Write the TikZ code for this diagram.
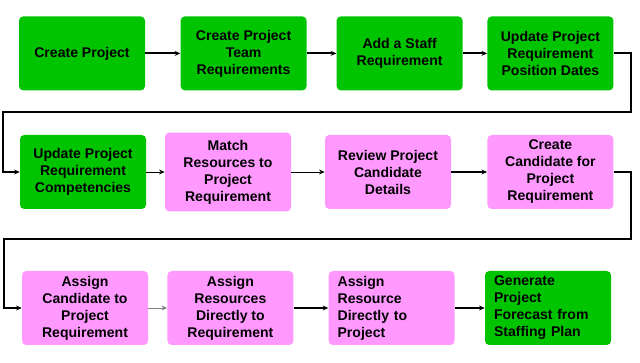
\documentclass[tikz,border=0pt]{standalone}
\usepackage{fontspec}
\setmainfont{Liberation Sans}
\usetikzlibrary{arrows.meta,positioning}
\definecolor{stepgreen}{RGB}{0,196,0}
\definecolor{steppink}{RGB}{255,153,255}

\begin{document}
\begin{tikzpicture}[
    box/.style={rounded corners=3pt, minimum width=3.15cm, minimum height=1.85cm,
        inner sep=1pt, align=center,
        font=\fontsize{10}{12.1}\selectfont\bfseries},
    greenbox/.style={box, fill=stepgreen},
    pinkbox/.style={box, fill=steppink},
    thickarrow/.style={line width=1.4pt, -{Stealth[length=4pt,width=3.5pt]}},
    thinarrow/.style={line width=0.7pt, -{Stealth[length=4pt,width=3.5pt]}}
    ]
    \useasboundingbox (0,0) rectangle (16,9.075);

    % first row
    \node[greenbox] (cp) at (2.05,7.74) {Create Project};
    \node[greenbox] (team) at (6.09,7.74) {Create Project\\Team\\Requirements};
    \node[greenbox] (staff) at (9.99,7.74) {Add a Staff\\Requirement};
    \node[greenbox] (dates) at (13.76,7.74) {Update Project\\Requirement\\Position Dates};

    % second row
    \node[greenbox] (comp) at (2.075,4.775) {Update Project\\Requirement\\Competencies};
    \node[pinkbox, minimum height=1.97cm] (match) at (5.7,4.775) {Match\\Resources to\\Project\\Requirement};
    \node[pinkbox] (review) at (9.7,4.775) {Review Project\\Candidate\\Details};
    \node[pinkbox] (cand) at (13.76,4.775) {Create\\Candidate for\\Project\\Requirement};

    % third row
    \node[pinkbox] (assigncand) at (2.125,1.375) {Assign\\Candidate to\\Project\\Requirement};
    \node[pinkbox] (assignreq) at (5.76,1.375) {Assign\\Resources\\Directly to\\Requirement};
    \node[pinkbox, align=left, text width=2.7cm] (assignproj) at (9.79,1.375) {Assign\\Resource\\Directly to\\Project};
    \node[greenbox, align=left, text width=2.7cm] (forecast) at (13.7,1.375) {Generate\\Project\\Forecast from\\Staffing Plan};

    % turns between the rows
    \coordinate (r1) at (15.775,7.74);
    \coordinate (r2) at (15.775,6.275);
    \coordinate (r3) at (0.075,6.275);
    \coordinate (r4) at (0.075,4.775);
    \coordinate (s1) at (15.775,4.775);
    \coordinate (s2) at (15.775,3.1);
    \coordinate (s3) at (0.1,3.1);
    \coordinate (s4) at (0.1,1.375);

    \draw[thickarrow] (cp) -- (team);
    \draw[thickarrow] (team) -- (staff);
    \draw[thickarrow] (staff) -- (dates);
    \draw[thickarrow] (dates.east) -- (r1) -- (r2) -- (r3) -- (r4) -- (comp.west);

    \draw[thinarrow] (comp) -- (match);
    \draw[thinarrow] (match) -- (review);
    \draw[thickarrow] (review) -- (cand);
    \draw[thickarrow] (cand.east) -- (s1) -- (s2) -- (s3) -- (s4) -- (assigncand.west);

    \draw[thinarrow, gray] (assigncand) -- (assignreq);
    \draw[thickarrow] (assignreq) -- (assignproj);
    \draw[thickarrow] (assignproj) -- (forecast);
\end{tikzpicture}
\end{document}
